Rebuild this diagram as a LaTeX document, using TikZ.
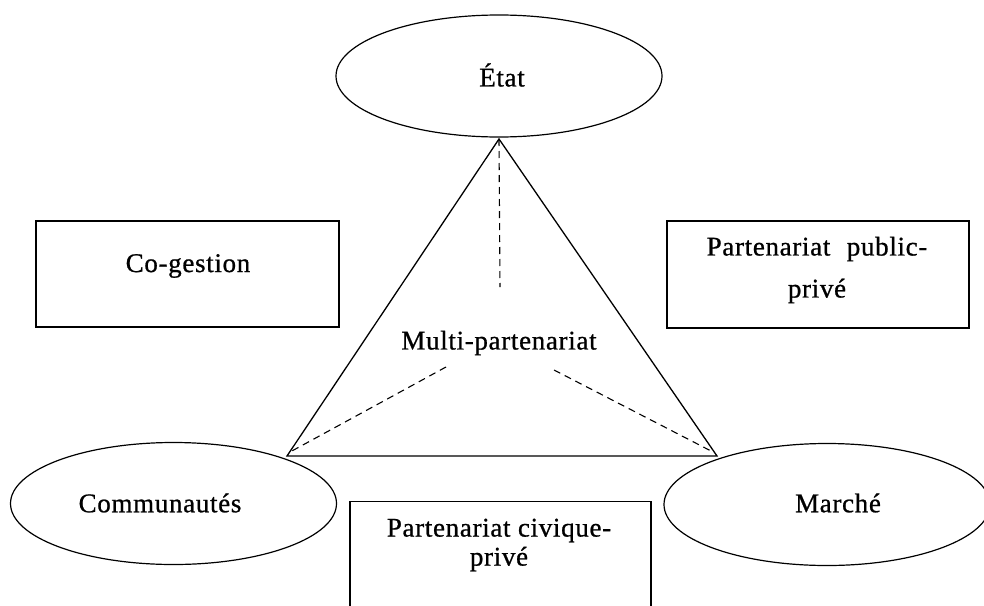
\documentclass[tikz,border=0pt]{standalone}
\usepackage{fontspec}
\setmainfont[LetterSpace=2.5,FakeBold=0.8]{Liberation Serif}
\usetikzlibrary{shapes.geometric}
\begin{document}
\begin{tikzpicture}[x=1pt,y=-1pt,
  oval/.style={draw, ellipse, line width=1.2pt, minimum width=326pt, minimum height=122pt, inner sep=0pt},
  box/.style={draw, line width=1.2pt, inner sep=0pt},
  lbl/.style={font=\fontsize{27}{29}\selectfont, align=center, inner sep=0pt},
  dashline/.style={line width=1.1pt, dash pattern=on 7pt off 5pt},
  tri/.style={line width=1.3pt, line join=miter}]
\clip (0,0) rectangle (984,605);
% ellipses
\node[oval] (etat) at (499,76) {};
\node[oval] (comm) at (173.5,503.5) {};
\node[oval] (marche) at (827,504.5) {};
% boxes
\node[box, minimum width=303pt, minimum height=106pt] (cog) at (187.5,274) {};
\node[box, minimum width=302pt, minimum height=107pt] (ppp) at (818,274.5) {};
\node[box, minimum width=301pt, minimum height=140pt] (pcp) at (500.5,571.5) {};
% labels
\node[lbl] (tetat) at (502,75) {État};
\node[lbl] (tcomm) at (160,503) {Communautés};
\node[lbl] (tmarche) at (838,503) {Marché};
\node[lbl] (tcog) at (188,266) {Co-gestion};
\node[lbl, font=\fontsize{27}{42}\selectfont] (tppp) at (817,270) {Partenariat\hspace{9pt} public-\\privé};
\node[lbl] (tpcp) at (499,545) {Partenariat civique-\\privé};
\node[lbl] (tmulti) at (499,343) {Multi-partenariat};
% triangle
\coordinate (A) at (499,139);
\coordinate (B) at (287,456);
\coordinate (C) at (717,456);
\draw[tri] (A) -- (B) -- (C) -- cycle;
% dashed lines
\coordinate (dA) at (500,287);
\coordinate (dB) at (446,367);
\coordinate (dC) at (554,370);
\coordinate (eB) at (290,452);
\coordinate (eC) at (713,452);
\draw[dashline] (A) -- (dA);
\draw[dashline] (dB) -- (eB);
\draw[dashline] (dC) -- (eC);
\end{tikzpicture}
\end{document}
